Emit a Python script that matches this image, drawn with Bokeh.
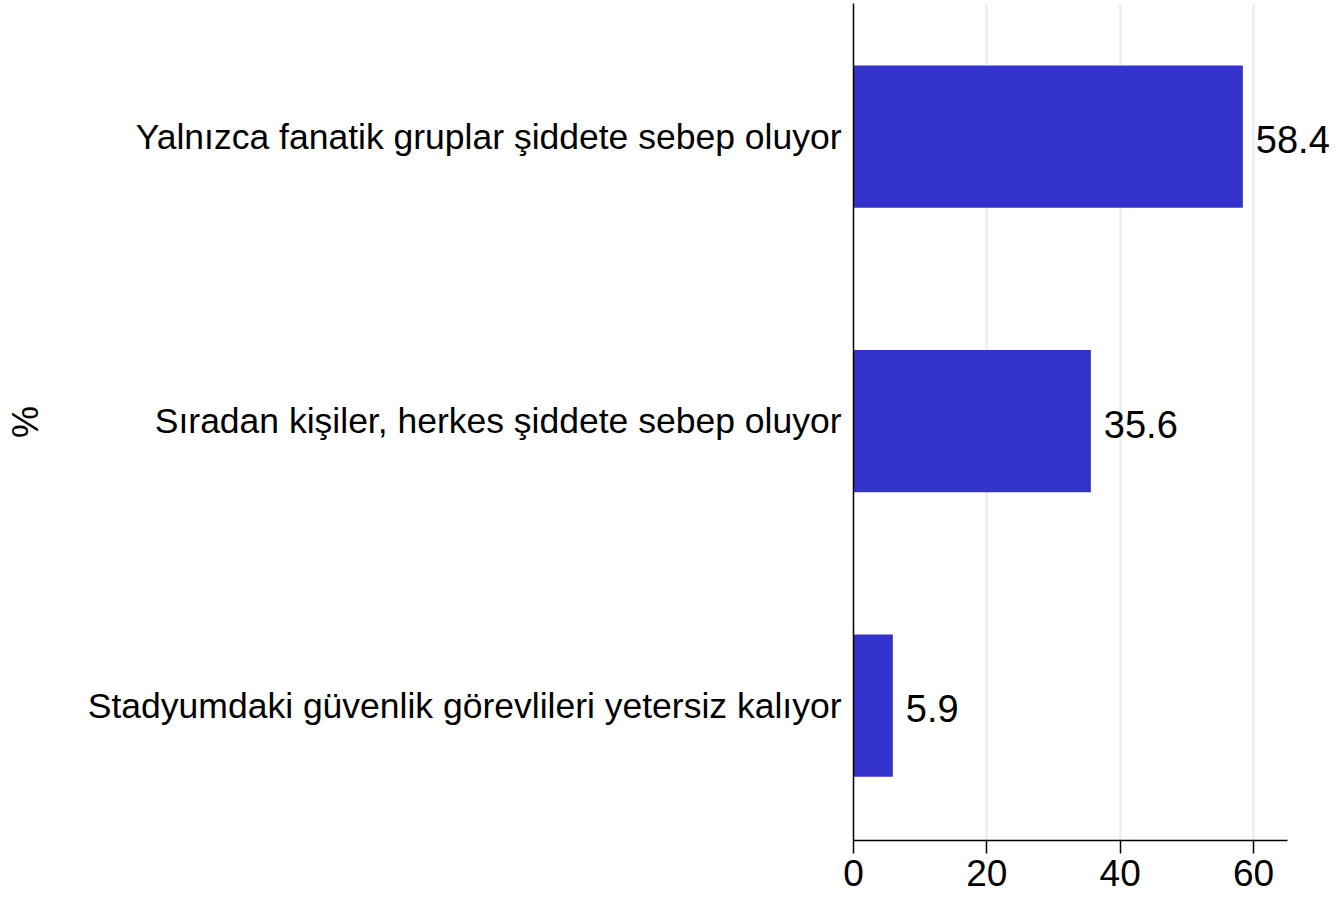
from bokeh.plotting import figure
from bokeh.models import Range1d, FixedTicker, ColumnDataSource, LabelSet
from bokeh.embed import file_html
from bokeh.resources import INLINE
from bokeh.core.properties import value

categories = [
    "Yalnızca fanatik gruplar şiddete sebep oluyor",
    "Sıradan kişiler, herkes şiddete sebep oluyor",
    "Stadyumdaki güvenlik görevlileri yetersiz kalıyor",
]
values = [58.4, 35.6, 5.9]
positions = [1, 2, 3]
x_ticks = [0, 20, 40, 60]

FONT = "Liberation Sans"

src = ColumnDataSource(dict(
    y=positions, v=values, lab=[f"{v:.1f}" for v in values], cat=categories,
))

p = figure(
    width=1341, height=900, output_backend="svg", toolbar_location=None,
    x_range=Range1d(0, 73.2), y_range=Range1d(3.4745, 0.5325),
    min_border_left=853, min_border_right=0, min_border_top=3, min_border_bottom=60,
    background_fill_color="white", border_fill_color="white",
)
p.outline_line_color = None

p.hbar(y="y", right="v", left=0, height=0.5, source=src,
       fill_color="#3333CC", line_color=None)
labels = LabelSet(x="v", y="y", text="lab", source=src, x_offset=13, y_offset=-3,
                  text_font=value(FONT), text_font_size="38px",
                  text_baseline="middle", text_align="left", text_color="black")
p.add_layout(labels)

# x axis
p.xaxis.ticker = FixedTicker(ticks=x_ticks)
p.xaxis.bounds = (0, 65.1)
p.xaxis.axis_line_color = "black"
p.xaxis.axis_line_width = 1.5
p.xaxis.major_tick_line_color = "black"
p.xaxis.major_tick_line_width = 1.5
p.xaxis.major_tick_out = 13
p.xaxis.major_tick_in = 0
p.xaxis.minor_tick_line_color = None
p.xaxis.major_label_text_font = FONT
p.xaxis.major_label_text_font_size = "37px"
p.xaxis.major_label_text_color = "black"
p.xaxis.major_label_standoff = 6

# y axis
p.yaxis.ticker = FixedTicker(ticks=positions)
p.yaxis.major_label_overrides = {pos: c for pos, c in zip(positions, categories)}
p.yaxis.axis_line_color = "black"
p.yaxis.axis_line_width = 1.5
p.yaxis.major_tick_line_color = None
p.yaxis.major_tick_out = 0
p.yaxis.major_tick_in = 0
p.yaxis.minor_tick_line_color = None
p.yaxis.major_label_text_font = FONT
p.yaxis.major_label_text_font_size = "35.5px"
p.yaxis.major_label_text_color = "black"
p.yaxis.major_label_standoff = 12
p.yaxis.axis_label = "%"
p.yaxis.axis_label_text_font = FONT
p.yaxis.axis_label_text_font_size = "36px"
p.yaxis.axis_label_text_font_style = "normal"
p.yaxis.axis_label_text_color = "black"
p.yaxis.axis_label_standoff = 39

p.xgrid.ticker = FixedTicker(ticks=[20, 40, 60])
p.xgrid.grid_line_color = "#EAF2F3"
p.xgrid.grid_line_width = 3
p.ygrid.grid_line_color = None

open("out.html", "w").write(file_html(p, INLINE))
